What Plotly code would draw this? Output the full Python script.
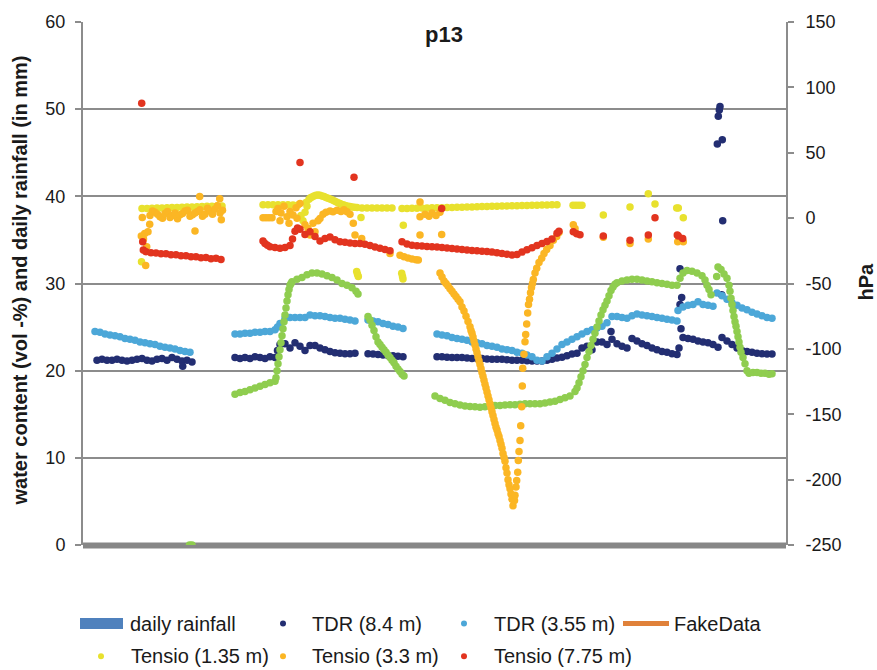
import plotly.graph_objects as go

# ---------------------------------------------------------------------------
# Measurement series. Time is given in days since the start of the record.
# Runs are (first day, sampling interval in days, readings); scattered
# readings are (day, reading) pairs.
# ---------------------------------------------------------------------------

# TDR (8.4 m), water content in vol-%
TDR84_RUNS = [
    (2.8, 1.0, [21.2, 21.3, 21.2, 21.2, 21.3, 21.2, 21.1, 21.2, 21.3, 21.4,
                21.2, 21.1, 21.3, 21.4, 21.2, 21.5, 21.3, 21.1, 21.2, 21.0]),
    (30.4, 1.0, [21.5, 21.4, 21.5, 21.4, 21.6, 21.5, 21.4, 21.6, 21.5, 23.0,
                 23.1, 22.6, 23.2, 22.8, 22.3, 22.9, 22.9, 22.6, 22.4, 22.2,
                 22.05, 22.0, 21.95, 21.95, 22.0]),
    (57.0, 1.0, [21.95, 21.9, 21.85, 21.8, 21.75, 21.7, 21.65, 21.6]),
    (70.8, 1.0, [21.6, 21.6, 21.55, 21.5, 21.5, 21.5, 21.45, 21.4, 21.4, 21.4,
                 21.35, 21.3, 21.3, 21.3, 21.25, 21.2, 21.2, 21.2, 21.15, 21.1,
                 21.1, 21.1, 21.2, 21.3, 21.45, 21.55, 21.7, 21.9, 22.0, 22.6,
                 22.8, 22.4, 23.3, 23.3, 23.0, 23.6, 23.1, 22.8, 22.6, 23.7,
                 23.4, 23.1, 22.9, 22.6, 22.4, 22.2, 22.1, 21.95, 21.85]),
    (120.0, 1.0, [23.8, 23.7, 23.6, 23.4, 23.3, 23.2, 23.0, 22.7]),
    (127.8, 1.0, [23.8, 23.4, 23.0, 22.6, 22.3, 22.2, 22.1, 22.0, 21.95, 21.9, 21.9]),
]
TDR84_POINTS = [
    (19.94, 20.5), (38.9, 22.3), (105.6, 24.5), (119.2, 22.6), (119.6, 24.8),
    (119.4, 27.6), (119.74, 28.4), (119.4, 31.7), (127.4, 50.3), (127.26, 49.9),
    (127.06, 49.2), (127.86, 46.5), (126.86, 46.0), (127.94, 37.2), (127.74, 28.7),
]

# TDR (3.55 m), water content in vol-%
TDR355_RUNS = [
    (2.4, 1.0, [24.5, 24.4, 24.2, 24.1, 24.0, 23.9, 23.7, 23.6, 23.5, 23.3,
                23.2, 23.1, 23.0, 22.8, 22.7, 22.6, 22.5, 22.3, 22.2, 22.1]),
    (30.4, 1.0, [24.2, 24.2, 24.3, 24.3, 24.4, 24.4, 24.5, 24.5, 24.7, 25.4,
                 26.0, 26.1, 26.1, 26.1, 26.1, 26.4, 26.3, 26.3, 26.2, 26.1,
                 26.0, 26.0, 25.9, 25.8, 25.7]),
    (57.0, 1.0, [25.8, 25.7, 25.6, 25.4, 25.3, 25.1, 25.0, 24.85]),
    (70.8, 1.0, [24.2, 24.1, 24.0, 23.8, 23.7, 23.6, 23.5, 23.3, 23.2, 23.1,
                 22.9, 22.8, 22.7, 22.5, 22.4, 22.3, 22.1, 22.0, 21.8, 21.6,
                 21.2, 21.1, 21.6, 22.0, 22.5, 23.0, 23.3, 23.6, 23.9, 24.2,
                 24.5, 24.7, 24.9, 25.1, 25.5, 26.2, 26.2, 26.1, 26.0, 26.3,
                 26.5, 26.4, 26.3, 26.2, 26.1, 26.0, 25.9, 25.8, 25.7]),
    (119.0, 1.0, [26.9, 27.3, 27.5, 27.6, 27.9, 27.6, 27.5, 27.4]),
    (126.8, 1.0, [28.9, 28.6, 28.2, 27.8, 27.5, 27.2, 27.0, 26.7, 26.5, 26.3, 26.1, 26.0]),
]
TDR355_POINTS = [(38.9, 25.0)]

# TDR (1.35 m), water content in vol-%
TDR135_RUNS = [
    (30.4, 1.0, [17.3, 17.5, 17.6, 17.8, 18.0, 18.2, 18.4, 18.6, 18.8]),
    (38.6, 0.2, [19.2, 20.0, 20.8, 21.6, 22.4, 23.2, 24.0, 24.8, 25.6, 26.4,
                 27.2, 28.0, 28.7, 29.3, 29.8, 30.0, 30.2]),
    (42.8, 1.0, [30.5, 30.7, 31.0, 31.2, 31.2, 31.1, 30.9, 30.7, 30.4, 30.0, 29.8, 29.5]),
    (57.0, 0.4, [26.2, 25.8, 25.2, 24.6, 23.9, 23.3, 23.0, 22.7, 22.4, 22.1,
                 21.8, 21.5, 21.2, 20.9, 20.5, 20.2, 19.9, 19.6, 19.4]),
    (70.4, 1.0, [17.1, 16.8, 16.6, 16.35, 16.2, 16.05, 15.95, 15.9, 15.85, 15.8,
                 15.85, 15.9, 16.0, 16.0, 16.05, 16.1, 16.1, 16.15, 16.2, 16.2,
                 16.2, 16.2, 16.3, 16.4, 16.5, 16.7, 16.9, 17.1, 17.6]),
    (98.8, 0.4, [18.0, 18.6, 19.3, 20.0, 20.7, 21.5, 22.2, 22.9, 23.6, 24.3,
                 25.0, 25.7, 26.4, 27.0, 27.5, 28.0, 28.6, 29.2, 29.6, 29.9]),
    (106.8, 1.0, [30.1, 30.3, 30.4, 30.5, 30.5, 30.4, 30.3, 30.2, 30.1, 30.0,
                  29.9, 29.8, 29.8]),
]
TDR135_POINTS = [
    (21.3, 0.0), (21.8, 0.0), (54.6, 29.1), (55.0, 28.8),
    (119.4, 30.6), (120.0, 31.2), (120.8, 31.5), (121.8, 31.4), (122.8, 31.2),
    (123.8, 30.9), (124.4, 30.4), (124.8, 29.8), (125.2, 29.3), (125.6, 28.7),
    (126.74, 30.8), (127.0, 31.9), (127.6, 31.6), (128.2, 31.1), (128.8, 30.6),
    (129.2, 29.8), (129.4, 29.1), (129.6, 28.3), (129.8, 27.6), (130.0, 26.9),
    (130.2, 26.2), (130.4, 25.6), (130.6, 25.1), (130.8, 24.5), (131.0, 23.9),
    (131.2, 23.3), (131.4, 22.7), (131.6, 22.1), (132.0, 21.5), (132.4, 20.8),
    (132.8, 20.0), (133.2, 19.7), (134.0, 19.8), (134.8, 19.8), (135.6, 19.7),
    (136.4, 19.7), (137.2, 19.6), (137.8, 19.65),
]

# Tensio (1.35 m), matric potential in hPa
TENSIO135_RUNS = [
    (11.8, 1.0, [7.3, 7.4, 7.6, 7.7, 7.8, 7.9, 8.1, 8.2, 8.3, 8.5, 8.6, 8.7,
                 8.8, 9.0, 9.1, 9.2, 9.3]),
    (36.0, 1.0, [10.3, 10.3, 10.3, 10.2, 10.2, 10.2, 10.1, 10.1]),
    (55.8, 1.0, [7.8, 7.8, 7.8, 7.8, 7.8, 7.8, 7.8]),
    (63.8, 1.0, [7.3, 7.4, 7.5, 7.6, 7.7, 7.8, 7.9, 8.0, 8.0, 8.1, 8.2, 8.3,
                 8.4, 8.5, 8.6, 8.7, 8.8, 8.9, 9.0, 9.1, 9.2, 9.3, 9.4, 9.5,
                 9.6, 9.7, 9.8, 9.9, 10.0, 10.1, 10.2, 10.3]),
]
TENSIO135_POINTS = [
    (11.7, -33.3), (43.6, 2.0), (44.0, -2.0), (44.4, 4.4), (44.6, 12.0),
    (44.8, 9.0), (45.2, 14.5), (45.5, 15.5), (45.8, 16.2), (46.2, 17.0),
    (46.6, 17.5), (47.0, 17.6), (47.4, 17.5), (47.8, 17.0), (48.2, 16.5),
    (48.6, 15.8), (49.0, 15.2), (49.4, 14.6), (49.8, 14.0), (50.2, 13.2),
    (50.6, 12.5), (51.0, 11.8), (51.4, 11.1), (51.8, 10.5), (52.2, 10.0),
    (52.6, 9.5), (53.0, 9.0), (53.4, 8.8), (53.8, 8.5), (54.3, 8.3), (54.8, 8.2),
    (54.74, -40.9), (54.9, -43.0), (55.06, -44.7), (55.6, 0.4),
    (64.06, -5.4), (63.74, -42.2), (63.9, -44.7), (64.0, -46.5),
    (98.0, 9.8), (98.6, 9.8), (99.2, 9.8), (99.8, 9.8), (104.06, 2.3),
    (109.4, 8.6), (113.06, 18.7), (114.4, 10.8), (118.74, 7.8), (119.06, 7.8),
    (120.06, 0.2),
]

# Tensio (3.3 m), matric potential in hPa
TENSIO33_RUNS = [
    (13.4, 0.5, [2.0, 5.5, 4.5, 3.0, 1.0, 0.0, 3.5, 5.0, 0.5, 2.0, 4.0, -0.5,
                 2.5, 3.5, 5.5, 6.0, 1.5, 2.5, 4.0, 5.0, 6.5, 1.5, 3.0, 7.5,
                 5.5, 3.0, 7.0, 9.5, 4.0, 6.0]),
    (63.4, 0.8, [-28.4, -29.5, -30.5, -31.2, -31.8]),
    (71.4, 0.4, [-42, -45, -48, -50, -52, -54, -56, -58, -60, -62, -64, -68,
                 -71, -75, -79, -83]),
    (77.6, 0.2, [-86, -88, -91, -94, -97, -100, -103, -106, -109, -112, -115,
                 -118, -121, -124, -127, -130, -133, -136, -139, -142, -145,
                 -148, -151, -154, -157, -160, -162, -165, -167, -170, -173,
                 -176, -180, -183, -186, -191, -195, -200, -204, -207, -211,
                 -215, -220]),
]
TENSIO33_POINTS = [
    (11.86, 0.4), (11.66, -13.7), (12.34, -11.7), (13.0, -10.4), (13.34, -4.6),
    (12.54, -36.3), (12.74, -21.9), (12.1, -16.0),
    (22.4, -9.9), (23.34, 16.6), (27.34, 14.8), (27.66, -1.2),
    (36.0, 0.2), (36.6, 0.2), (37.2, 0.2), (37.8, 0.2),
    (38.6, 5.0), (39.0, 7.3), (39.4, -2.0), (39.6, 4.0), (40.2, 9.0), (40.8, 1.0),
    (41.2, -4.0), (41.4, 5.0), (42.0, 2.3), (42.6, 8.0), (42.8, 0.0), (43.4, 11.1),
    (44.4, -5.0), (45.0, -7.9), (45.4, -13.0), (46.0, -4.0), (46.4, -10.4),
    (47.0, -2.0), (47.4, -0.2), (48.0, 3.0), (48.6, 4.5), (49.4, 5.5), (50.0, 4.9),
    (50.8, 6.0), (51.6, 5.0), (52.2, 6.5), (52.8, 4.9), (53.4, 3.0),
    (54.06, -3.9), (54.4, -13.0), (55.74, -15.6), (61.4, -27.1), (67.06, -32.0),
    (67.4, 12.4), (67.4, 1.0), (68.4, 3.0), (69.2, 1.5), (69.8, 4.0), (70.6, 2.0),
    (71.4, 4.5), (67.4, -13.0), (71.74, -12.5),
    (86.3, -216), (86.4, -212), (86.6, -205.7), (86.74, -200.6), (86.94, -194.3),
    (87.06, -185.4), (87.2, -178.5), (87.4, -170.1), (87.54, -158.7),
    (87.74, -144.3), (87.86, -128.3), (87.94, -114.9), (88.2, -104.2),
    (88.4, -94.6), (88.54, -89.0), (88.74, -80.9), (88.94, -72.6), (89.1, -66.0),
    (89.3, -62.0), (89.5, -57.0), (89.7, -53.0), (89.9, -50.0), (90.06, -47.0),
    (90.4, -42.0), (90.74, -38.4), (91.2, -34.0), (91.74, -30.7), (92.2, -27.0),
    (92.74, -24.0), (93.4, -21.0), (94.06, -17.0), (94.74, -14.0), (95.2, -11.0),
    (98.06, -5.0), (98.4, -7.9), (104.06, -14.7), (109.4, -19.4), (113.06, -16.0),
    (118.94, -18.1), (120.06, -18.1),
]

# Tensio (7.75 m), matric potential in hPa
TENSIO775_RUNS = [
    (12.6, 1.0, [-25.7, -26.5, -26.6, -27.2, -27.3, -28.0, -28.1, -28.8, -28.7,
                 -29.5, -29.6, -30.3, -30.2, -31.0, -30.6, -31.6]),
    (36.4, 1.0, [-19.4, -21.9, -22.5, -23.1, -22.5, -21.0, -10.0, -8.5, -12.5,
                 -10.4, -14.0, -17.5, -15.5, -14.5, -16.5, -18.1, -18.5, -19.0,
                 -19.4, -19.4, -20.0, -21.0, -22.0, -23.0, -24.0, -25.0]),
    (63.8, 1.0, [-18.1, -19.8, -20.8, -21.1, -21.4, -21.7, -21.9, -22.1, -22.4,
                 -22.8, -23.2, -23.6, -24.0, -24.4, -24.7, -25.0, -25.3, -25.6,
                 -26.0, -26.5, -27.0, -27.6, -28.2, -27.8, -26.0, -24.2, -22.6,
                 -21.0, -19.4, -17.8, -16.0, -11.5]),
]
TENSIO775_POINTS = [
    (11.74, 87.9), (43.4, 42.6), (54.2, 31.2), (71.74, 7.3), (114.4, 0.2),
    (11.94, -18.1), (12.06, -24.4), (41.9, -16.0), (42.9, -7.5), (36.9, -20.8),
    (36.0, -17.5), (95.2, -10.0), (98.06, -10.4), (98.74, -12.0), (99.4, -12.7),
    (104.06, -13.7), (109.4, -17.0), (113.06, -13.0), (118.86, -13.0),
    (119.06, -13.7), (119.94, -15.5),
]

# Axis ticks
LEFT_TICKS = [0, 10, 20, 30, 40, 50, 60]
LEFT_TICK_LABELS = ["0", "10", "20", "30", "40", "50", "60"]
RIGHT_TICKS = [-250, -200, -150, -100, -50, 0, 50, 100, 150]
RIGHT_TICK_LABELS = ["-250", "-200", "-150", "-100", "-50", "0", "50", "100", "150"]

# Legend entries (label, symbol kind, colour)
LEGEND_ROW1 = [
    ("daily rainfall", "bar", "#4F81BD"),
    ("TDR (8.4 m)", "dot", "#232E72"),
    ("TDR (3.55 m)", "dot", "#4CA7D8"),
    ("FakeData", "line", "#E0813A"),
]
LEGEND_ROW2 = [
    ("Tensio (1.35 m)", "dot", "#E8E12E"),
    ("Tensio (3.3 m)", "dot", "#FBB624"),
    ("Tensio (7.75 m)", "dot", "#E2341F"),
]

FONT = "Liberation Sans, Arial, Helvetica, sans-serif"
GRID = "#8C8C8C"
TEXT = "#1A1A1A"
MARKER_SIZE = 7.5

# Plot frame in page pixels
PL, PR, PT, PB = 83, 786, 19, 545


def px_x(p):
    return (p - PL) / (PR - PL)


def px_y(p):
    return (PB - p) / (PB - PT)


def expand(runs, points):
    xs, ys = [], []
    for d0, dd, vals in runs:
        for i, v in enumerate(vals):
            xs.append(round(d0 + i * dd, 3))
            ys.append(v)
    for d, v in points:
        xs.append(d)
        ys.append(v)
    return xs, ys


series = [
    ("TDR (8.4 m)", TDR84_RUNS, TDR84_POINTS, "#232E72", "y"),
    ("TDR (3.55 m)", TDR355_RUNS, TDR355_POINTS, "#4CA7D8", "y"),
    ("TDR (1.35 m)", TDR135_RUNS, TDR135_POINTS, "#8FCD4F", "y"),
    ("Tensio (1.35 m)", TENSIO135_RUNS, TENSIO135_POINTS, "#E8E12E", "y2"),
    ("Tensio (3.3 m)", TENSIO33_RUNS, TENSIO33_POINTS, "#FBB624", "y2"),
    ("Tensio (7.75 m)", TENSIO775_RUNS, TENSIO775_POINTS, "#E2341F", "y2"),
]

fig = go.Figure()
for name, runs, pts, color, yax in series:
    xs, ys = expand(runs, pts)
    fig.add_trace(go.Scatter(
        x=xs, y=ys, name=name, mode="markers", yaxis=yax,
        marker=dict(size=MARKER_SIZE, color=color, line=dict(width=0)),
        hoverinfo="x+y+name",
    ))

axis_common = dict(
    showline=True, linecolor=GRID, linewidth=2,
    ticks="outside", ticklen=6, tickwidth=2, tickcolor=GRID,
    tickfont=dict(family=FONT, size=18, color=TEXT),
    zeroline=False,
)

fig.update_layout(
    width=877, height=670,
    margin=dict(l=PL, r=877 - PR, t=PT, b=670 - PB),
    paper_bgcolor="white", plot_bgcolor="white",
    showlegend=False,
    font=dict(family=FONT, size=18, color=TEXT),
    xaxis=dict(range=[0, 140.6], showticklabels=False, showgrid=False,
               zeroline=False, showline=False, ticks=""),
    yaxis=dict(range=[0, 60], tickmode="array", tickvals=LEFT_TICKS,
               ticktext=LEFT_TICK_LABELS, showgrid=True, gridcolor=GRID,
               gridwidth=2, ticklabelstandoff=6, **axis_common),
    yaxis2=dict(range=[-250, 150], overlaying="y", side="right",
                tickmode="array", tickvals=RIGHT_TICKS,
                ticktext=RIGHT_TICK_LABELS, showgrid=False,
                ticklabelstandoff=8, **axis_common),
)

shapes = [
    # heavy category axis along the bottom of the plot
    dict(type="line", xref="paper", x0=0, x1=1, yref="paper",
         y0=px_y(545.5), y1=px_y(545.5),
         line=dict(color="#878787", width=6), layer="below"),
]
annotations = [
    dict(text="<b>p13</b>", xref="paper", yref="paper", x=px_x(444), y=px_y(32),
         showarrow=False, font=dict(family=FONT, size=22, color=TEXT),
         xanchor="center", yanchor="middle"),
    dict(text="<b>water content (vol -%) and daily rainfall (in mm)</b>",
         xref="paper", yref="paper", x=px_x(20), y=px_y(279), textangle=-90,
         showarrow=False, font=dict(family=FONT, size=20, color=TEXT),
         xanchor="center", yanchor="middle"),
    dict(text="<b>hPa</b>", xref="paper", yref="paper", x=px_x(866), y=px_y(280),
         textangle=-90, showarrow=False, font=dict(family=FONT, size=20, color=TEXT),
         xanchor="center", yanchor="middle"),
]

# Legend laid out in two rows below the plot
row_specs = [
    (LEGEND_ROW1, 624, [(80, 128), (283, 310), (464, 492), (623, 672)]),
    (LEGEND_ROW2, 657, [(101, 129), (283, 310), (464, 492)]),
]
for entries, ypx, slots in row_specs:
    for (label, kind, color), (sym_x, text_x) in zip(entries, slots):
        if kind == "bar":
            shapes.append(dict(type="rect", xref="paper", yref="paper",
                               x0=px_x(sym_x), x1=px_x(sym_x + 43),
                               y0=px_y(ypx + 5.5), y1=px_y(ypx - 5.5),
                               fillcolor=color, line=dict(width=0)))
        elif kind == "line":
            shapes.append(dict(type="line", xref="paper", yref="paper",
                               x0=px_x(sym_x), x1=px_x(sym_x + 46),
                               y0=px_y(ypx), y1=px_y(ypx),
                               line=dict(color=color, width=5)))
        else:
            shapes.append(dict(type="circle", xref="paper", yref="paper",
                               xsizemode="pixel", ysizemode="pixel",
                               xanchor=px_x(sym_x), yanchor=px_y(ypx),
                               x0=-3, x1=3, y0=-3, y1=3,
                               fillcolor=color, line=dict(width=0)))
        annotations.append(dict(text=label, xref="paper", yref="paper",
                                x=px_x(text_x), y=px_y(ypx), showarrow=False,
                                xanchor="left", yanchor="middle",
                                font=dict(family=FONT, size=20, color=TEXT)))

fig.update_layout(shapes=shapes, annotations=annotations)
fig.write_html("out.html")
